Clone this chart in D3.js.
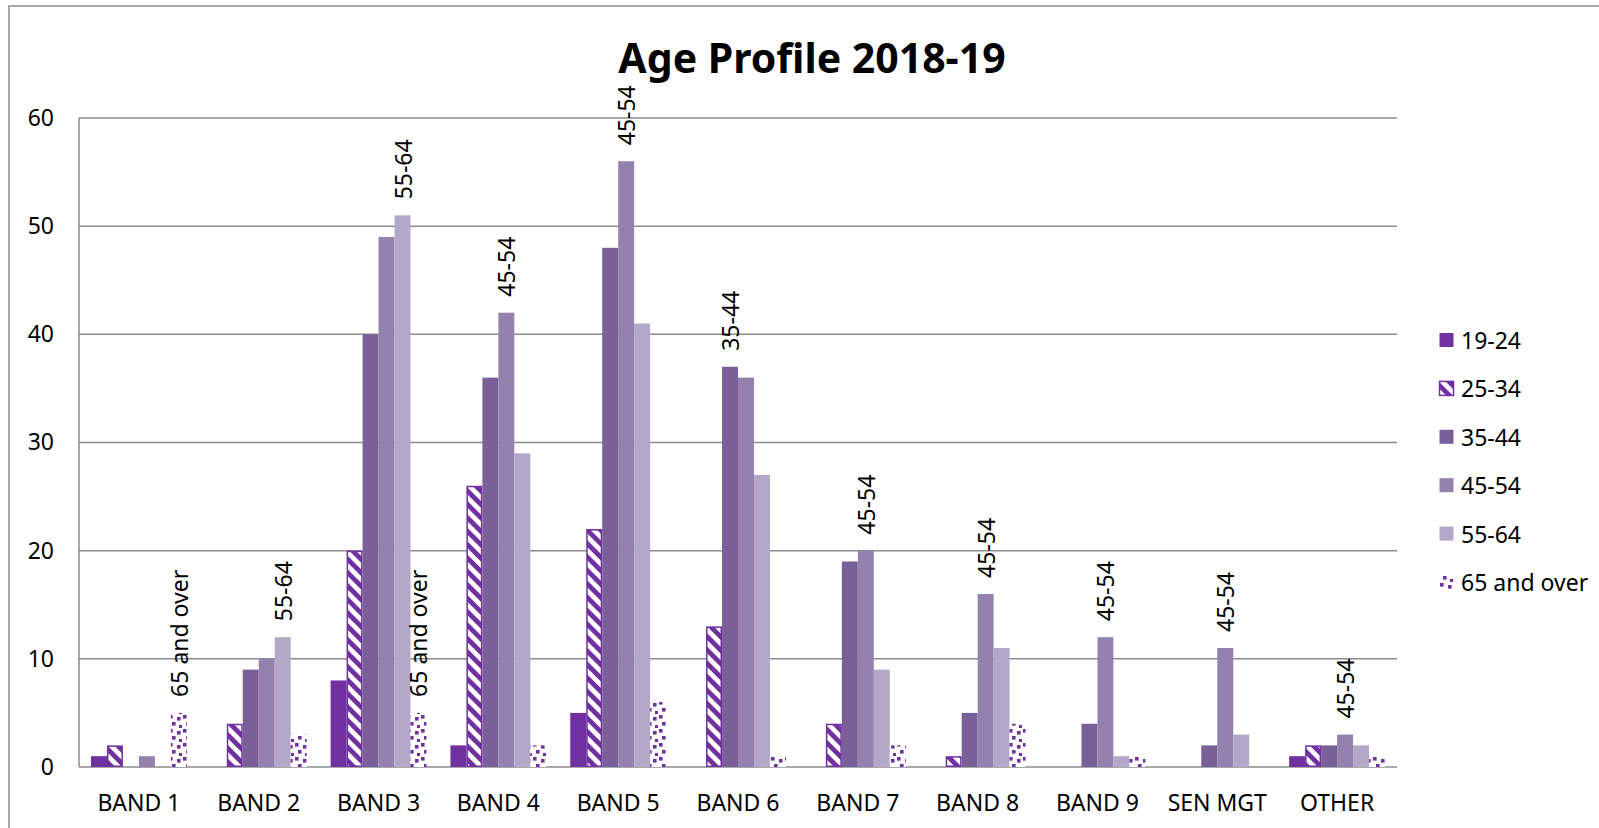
<!DOCTYPE html>
<html>
<head>
<meta charset="utf-8">
<script src="https://cdn.jsdelivr.net/npm/d3@7/dist/d3.min.js"></script>
<style>
  html, body { margin: 0; padding: 0; background: #fff; }
  svg { display: block; font-family: "Noto Sans", sans-serif; }
</style>
</head>
<body>
<div id="chart"></div>
<script>
// Data ---------------------------------------------------------------------->

const bands = ['BAND 1', 'BAND 2', 'BAND 3', 'BAND 4', 'BAND 5', 'BAND 6',
               'BAND 7', 'BAND 8', 'BAND 9', 'SEN MGT', 'OTHER'];
const age_groups = ['19-24', '25-34', '35-44', '45-54', '55-64', '65 and over'];

// one array per age group, in band order
const v_19_24 = [1, 0, 8, 2, 5, 0, 0, 0, 0, 0, 1];
const v_25_34 = [2, 4, 20, 26, 22, 13, 4, 1, 0, 0, 2];
const v_35_44 = [0, 9, 40, 36, 48, 37, 19, 5, 4, 2, 2];
const v_45_54 = [1, 10, 49, 42, 56, 36, 20, 16, 12, 11, 3];
const v_55_64 = [0, 12, 51, 29, 41, 27, 9, 11, 1, 3, 2];
const v_65_up = [5, 3, 5, 2, 6, 1, 2, 4, 1, 0, 1];

// which bars get a rotated series-name label
const labelled = [
  ['BAND 1', '65 and over'], ['BAND 2', '55-64'], ['BAND 3', '55-64'],
  ['BAND 3', '65 and over'], ['BAND 4', '45-54'], ['BAND 5', '45-54'],
  ['BAND 6', '35-44'], ['BAND 7', '45-54'], ['BAND 8', '45-54'],
  ['BAND 9', '45-54'], ['SEN MGT', '45-54'], ['OTHER', '45-54']
];

const y_ticks = [0, 10, 20, 30, 40, 50, 60];

const values = [v_19_24, v_25_34, v_35_44, v_45_54, v_55_64, v_65_up];
const rows = [];
bands.forEach((b, i) => age_groups.forEach((g, j) =>
  rows.push({band: b, group: g, value: values[j][i]})));

// Setup --------------------------------------------------------------------->

const width = 1599, height = 828;
const plot = {left: 79, right: 1397, top: 118, bottom: 767};
const purple = '#7030a0';
const font_size = '23px';

const svg = d3.select('#chart')
  .append('svg')
    .attr('width', width)
    .attr('height', height);

const defs = svg.append('defs');

// diagonal stripes for 25-34
const stripes = defs.append('pattern')
    .attr('id', 'stripes')
    .attr('patternUnits', 'userSpaceOnUse')
    .attr('width', 9.5)
    .attr('height', 9.5)
    .attr('patternTransform', 'rotate(-45)');
stripes.append('rect').attr('width', 9.5).attr('height', 9.5).attr('fill', '#fff');
stripes.append('rect').attr('width', 4.8).attr('height', 9.5).attr('fill', purple);

// confetti dots for 65 and over
const dots = defs.append('pattern')
    .attr('id', 'dots')
    .attr('patternUnits', 'userSpaceOnUse')
    .attr('width', 14)
    .attr('height', 14);
dots.append('rect').attr('width', 14).attr('height', 14).attr('fill', '#fff');
[[1, 1], [9, 3], [4, 8], [11, 11]].forEach(p =>
  dots.append('rect')
    .attr('x', p[0]).attr('y', p[1])
    .attr('width', 3.6).attr('height', 3.6)
    .attr('fill', purple));

const fills = {
  '19-24': purple,
  '25-34': 'url(#stripes)',
  '35-44': '#7b5f99',
  '45-54': '#9481ae',
  '55-64': '#b3a8c8',
  '65 and over': 'url(#dots)'
};

// Outer frame
svg.append('rect')
    .attr('x', 9).attr('y', 6)
    .attr('width', width).attr('height', height)
    .attr('fill', 'none')
    .attr('stroke', '#8c8c8c')
    .attr('stroke-width', 1.5);

// Title
svg.append('text')
    .attr('x', 812).attr('y', 73)
    .attr('text-anchor', 'middle')
    .style('font-size', '41px')
    .style('font-weight', 'bold')
    .text('Age Profile 2018-19');

// Scales -------------------------------------------------------------------->

const x0 = d3.scaleBand()
    .domain(bands)
    .range([plot.left, plot.right])
    .paddingInner(0.2)
    .paddingOuter(0.1);

const x1 = d3.scaleBand()
    .domain(age_groups)
    .range([0, x0.bandwidth()]);

const y = d3.scaleLinear()
    .domain([0, 60])
    .range([plot.bottom, plot.top]);

// Gridlines and axes
svg.append('g')
  .selectAll('line')
  .data(y_ticks)
  .join('line')
    .attr('x1', plot.left).attr('x2', plot.right)
    .attr('y1', d => y(d)).attr('y2', d => y(d))
    .attr('stroke', '#8c8c8c')
    .attr('stroke-width', 1.5);

svg.append('line')
    .attr('x1', plot.left).attr('x2', plot.left)
    .attr('y1', plot.top).attr('y2', plot.bottom)
    .attr('stroke', '#8c8c8c')
    .attr('stroke-width', 1.5);

const y_axis = svg.append('g')
    .attr('transform', 'translate(' + (plot.left - 25) + ',0)')
    .call(d3.axisLeft(y).tickValues(y_ticks).tickSize(0).tickPadding(0));
y_axis.select('.domain').remove();
y_axis.selectAll('text')
    .style('font-size', font_size)
    .style('font-family', '"Noto Sans", sans-serif')
    .attr('fill', '#000');

const x_axis = svg.append('g')
    .attr('transform', 'translate(0,' + (plot.bottom + 44) + ')')
    .call(d3.axisBottom(x0).tickSize(0).tickPadding(0));
x_axis.select('.domain').remove();
x_axis.selectAll('text')
    .attr('dy', 0)
    .style('font-size', font_size)
    .style('font-family', '"Noto Sans", sans-serif')
    .attr('fill', '#000');

// Bars ---------------------------------------------------------------------->

svg.append('g')
  .selectAll('rect')
  .data(rows.filter(d => d.value > 0))
  .join('rect')
    .attr('x', d => x0(d.band) + x1(d.group) + (d.group == '25-34' ? 0.75 : 0))
    .attr('y', d => y(d.value) + (d.group == '25-34' ? 0.75 : 0))
    .attr('width', d => x1.bandwidth() - (d.group == '25-34' ? 1.5 : 0))
    .attr('height', d => y(0) - y(d.value) - (d.group == '25-34' ? 1.5 : 0))
    .attr('fill', d => fills[d.group])
    .attr('stroke', d => d.group == '25-34' ? purple : 'none')
    .attr('stroke-width', 1.5);

// Rotated labels above selected bars
svg.append('g')
  .selectAll('text')
  .data(labelled)
  .join('text')
    .attr('transform', d => {
      const row = rows.find(r => r.band == d[0] && r.group == d[1]);
      const cx = x0(d[0]) + x1(d[1]) + x1.bandwidth() / 2;
      return 'translate(' + cx + ',' + (y(row.value) - 16) + ') rotate(-90)';
    })
    .attr('dominant-baseline', 'central')
    .style('font-size', font_size)
    .text(d => d[1]);

// Legend -------------------------------------------------------------------->

const legend_y = d3.scalePoint()
    .domain(age_groups)
    .range([340, 582]);

const legend = svg.append('g')
  .selectAll('g')
  .data(age_groups)
  .join('g')
    .attr('transform', d => 'translate(1439,' + legend_y(d) + ')');
legend.append('rect')
    .attr('x', 0.5).attr('y', -7)
    .attr('width', 14).attr('height', 14)
    .attr('fill', d => fills[d])
    .attr('stroke', d => d == '25-34' ? purple : 'none')
    .attr('stroke-width', 1.5);
legend.append('text')
    .attr('x', 22)
    .attr('dominant-baseline', 'central')
    .style('font-size', font_size)
    .text(d => d);
</script>
</body>
</html>
